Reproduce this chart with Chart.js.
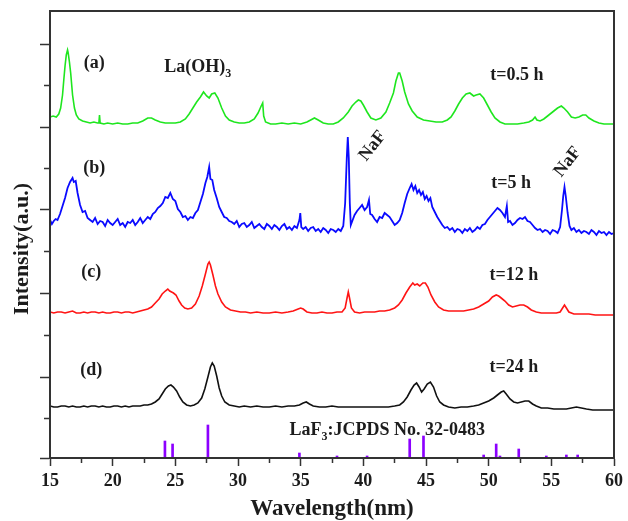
<!DOCTYPE html>
<html>
<head>
<meta charset="utf-8">
<title>XRD patterns</title>
<script src="https://cdn.jsdelivr.net/npm/chart.js@4.4.0/dist/chart.umd.min.js"></script>
<style>
  html, body { margin: 0; padding: 0; background: #fff; }
  canvas { display: block; }
</style>
</head>
<body>
<canvas id="chart" width="628" height="521"></canvas>
<script>
// patterns: [2theta, intensity (a.u., already stacked)]
var curveA = [ // t=0.5 h
	[15.0, 341], [15.25, 342], [15.5, 341], [15.7, 344], [15.85, 350], [16.0, 363], [16.1, 378], [16.2, 392],
	[16.3, 403], [16.4, 408], [16.45, 405], [16.55, 396], [16.65, 385], [16.8, 363], [16.95, 350], [17.1, 343],
	[17.3, 339], [17.6, 337], [17.9, 336], [18.2, 335], [18.5, 336], [18.8, 335], [18.9, 335], [18.95, 343],
	[19.0, 335], [19.3, 334], [19.6, 335], [20.0, 334], [20.4, 335], [20.8, 334], [21.2, 334], [21.6, 335],
	[22.0, 335], [22.4, 337], [22.8, 340], [23.1, 340], [23.4, 338], [23.8, 336], [24.2, 335], [24.6, 335],
	[25.0, 335], [25.4, 336], [25.8, 339], [26.1, 344], [26.4, 350], [26.7, 356], [27.0, 361], [27.25, 366],
	[27.5, 362], [27.7, 360], [27.9, 364], [28.15, 365], [28.4, 360], [28.7, 350], [29.0, 342], [29.3, 338],
	[29.7, 336], [30.1, 335], [30.5, 335], [30.9, 336], [31.3, 339], [31.6, 345], [31.85, 352], [31.97, 355],
	[32.05, 342], [32.2, 336], [32.6, 334], [33.0, 334], [33.5, 335], [34.0, 334], [34.5, 335], [35.0, 334],
	[35.5, 336], [35.8, 338], [36.1, 340], [36.4, 338], [36.8, 335], [37.2, 334], [37.6, 334], [38.0, 336],
	[38.4, 340], [38.8, 346], [39.1, 352], [39.4, 356], [39.6, 358], [39.8, 357], [40.0, 353], [40.3, 346],
	[40.6, 340], [41.0, 338], [41.4, 340], [41.8, 346], [42.1, 355], [42.4, 365], [42.6, 377], [42.8, 385],
	[42.9, 385], [43.1, 377], [43.3, 366], [43.6, 354], [43.9, 347], [44.3, 341], [44.8, 338], [45.3, 337],
	[45.8, 336], [46.3, 336], [46.7, 338], [47.0, 341], [47.3, 347], [47.6, 354], [47.9, 360], [48.2, 364],
	[48.5, 365], [48.8, 362], [49.0, 363], [49.3, 364], [49.6, 360], [49.9, 353], [50.2, 346], [50.5, 340],
	[50.9, 336], [51.3, 334], [51.8, 334], [52.3, 334], [52.8, 335], [53.2, 336], [53.5, 338], [53.7, 341],
	[53.85, 338], [54.1, 337], [54.4, 339], [54.8, 343], [55.2, 347], [55.5, 350], [55.8, 352], [56.0, 350],
	[56.3, 346], [56.6, 341], [56.9, 340], [57.2, 341], [57.5, 343], [57.75, 343], [58.0, 340], [58.4, 337],
	[58.8, 335], [59.2, 334], [59.6, 334], [60.0, 334]
];

var curveB = [ // t=5 h
	[15.0, 238], [15.15, 234], [15.3, 237], [15.45, 239], [15.6, 238], [15.8, 244], [16.0, 252], [16.2, 260],
	[16.4, 270], [16.6, 276], [16.8, 280], [16.9, 276], [17.05, 277], [17.2, 265], [17.4, 253], [17.6, 246],
	[17.8, 247], [18.0, 240], [18.2, 238], [18.4, 236], [18.6, 240], [18.8, 234], [19.0, 237], [19.2, 236],
	[19.4, 232], [19.6, 238], [19.8, 235], [20.0, 233], [20.2, 236], [20.4, 239], [20.6, 233], [20.8, 235],
	[21.0, 231], [21.2, 236], [21.4, 235], [21.6, 238], [21.8, 233], [22.0, 236], [22.2, 240], [22.4, 235],
	[22.6, 238], [22.8, 241], [23.0, 239], [23.2, 244], [23.4, 246], [23.6, 250], [23.8, 252], [24.0, 255],
	[24.2, 261], [24.4, 260], [24.6, 265], [24.8, 259], [25.0, 257], [25.2, 249], [25.4, 246], [25.6, 241],
	[25.8, 242], [26.0, 238], [26.2, 241], [26.4, 240], [26.6, 245], [26.8, 248], [27.0, 256], [27.2, 264],
	[27.4, 275], [27.55, 281], [27.7, 291], [27.8, 279], [27.95, 278], [28.1, 268], [28.3, 260], [28.5, 251],
	[28.7, 246], [28.9, 241], [29.1, 240], [29.3, 237], [29.5, 236], [29.7, 234], [29.9, 237], [30.1, 231],
	[30.3, 234], [30.5, 235], [30.7, 231], [30.9, 233], [31.1, 236], [31.3, 230], [31.5, 232], [31.7, 234],
	[31.9, 231], [32.1, 229], [32.3, 234], [32.5, 232], [32.7, 229], [32.9, 233], [33.1, 231], [33.3, 228],
	[33.5, 232], [33.7, 234], [33.9, 229], [34.1, 231], [34.3, 228], [34.5, 232], [34.7, 230], [34.9, 238],
	[34.97, 245], [35.05, 231], [35.2, 229], [35.4, 231], [35.6, 227], [35.8, 230], [36.0, 231], [36.2, 227],
	[36.4, 229], [36.6, 226], [36.8, 230], [37.0, 228], [37.2, 225], [37.4, 229], [37.6, 228], [37.8, 226],
	[38.0, 229], [38.2, 227], [38.4, 232], [38.55, 255], [38.68, 300], [38.76, 321], [38.84, 300], [38.92, 255],
	[39.0, 233], [39.15, 238], [39.3, 243], [39.5, 247], [39.7, 250], [39.9, 253], [40.1, 248], [40.3, 251],
	[40.45, 258], [40.55, 244], [40.7, 243], [40.9, 239], [41.1, 236], [41.3, 241], [41.5, 240], [41.7, 245],
	[41.9, 243], [42.1, 241], [42.3, 237], [42.5, 233], [42.7, 235], [42.9, 238], [43.1, 245], [43.3, 255],
	[43.5, 264], [43.7, 270], [43.85, 274], [44.0, 268], [44.15, 272], [44.3, 265], [44.45, 268], [44.6, 263],
	[44.75, 266], [44.9, 259], [45.05, 262], [45.2, 257], [45.35, 260], [45.5, 251], [45.7, 246], [45.9, 241],
	[46.1, 237], [46.3, 233], [46.5, 230], [46.7, 231], [46.9, 228], [47.1, 230], [47.3, 226], [47.5, 229],
	[47.7, 228], [47.9, 225], [48.1, 229], [48.3, 227], [48.5, 230], [48.7, 226], [48.9, 228], [49.1, 231],
	[49.3, 229], [49.5, 233], [49.7, 234], [49.9, 238], [50.1, 241], [50.3, 244], [50.5, 247], [50.7, 250],
	[50.9, 248], [51.1, 245], [51.3, 241], [51.45, 252], [51.55, 236], [51.7, 237], [51.9, 233], [52.1, 235],
	[52.3, 238], [52.5, 240], [52.7, 239], [52.9, 241], [53.1, 237], [53.3, 236], [53.5, 233], [53.7, 230],
	[53.9, 228], [54.1, 229], [54.3, 226], [54.5, 228], [54.7, 227], [54.9, 224], [55.1, 228], [55.3, 227],
	[55.5, 225], [55.7, 231], [55.85, 248], [55.95, 262], [56.05, 271], [56.15, 262], [56.3, 245], [56.45, 232],
	[56.6, 228], [56.8, 230], [57.0, 226], [57.2, 228], [57.4, 225], [57.6, 227], [57.8, 226], [58.0, 224],
	[58.2, 228], [58.4, 226], [58.6, 223], [58.8, 227], [59.0, 225], [59.2, 226], [59.4, 223], [59.6, 226],
	[59.8, 224], [60.0, 225]
];

var curveC = [ // t=12 h
	[15.0, 146], [15.3, 145], [15.6, 146], [15.9, 146], [16.2, 145], [16.5, 146], [16.8, 147], [17.1, 145],
	[17.4, 145], [17.7, 146], [18.0, 145], [18.3, 146], [18.6, 146], [18.9, 145], [19.2, 146], [19.5, 145],
	[19.8, 145], [20.1, 146], [20.4, 146], [20.7, 145], [21.0, 146], [21.3, 146], [21.6, 145], [21.9, 146],
	[22.2, 147], [22.5, 148], [22.8, 149], [23.1, 151], [23.4, 155], [23.7, 159], [23.95, 164], [24.2, 167],
	[24.4, 169], [24.55, 167], [24.7, 166], [24.85, 165], [25.05, 163], [25.3, 157], [25.5, 153], [25.75, 150],
	[26.0, 149], [26.3, 150], [26.6, 154], [26.9, 162], [27.15, 172], [27.4, 184], [27.6, 194], [27.7, 196],
	[27.8, 193], [28.0, 183], [28.2, 172], [28.4, 164], [28.7, 156], [29.0, 151], [29.4, 148], [29.8, 147],
	[30.2, 146], [30.6, 146], [31.0, 145], [31.5, 146], [32.0, 145], [32.5, 145], [33.0, 146], [33.5, 145],
	[34.0, 146], [34.4, 147], [34.8, 149], [35.0, 150], [35.2, 149], [35.5, 146], [35.9, 145], [36.3, 145],
	[36.7, 146], [37.1, 145], [37.5, 145], [37.9, 146], [38.3, 146], [38.55, 150], [38.7, 160], [38.8, 166],
	[38.9, 160], [39.05, 150], [39.3, 146], [39.7, 145], [40.1, 146], [40.5, 146], [40.9, 146], [41.3, 147],
	[41.7, 147], [42.1, 148], [42.5, 150], [42.8, 153], [43.1, 158], [43.4, 165], [43.7, 171], [43.95, 175],
	[44.1, 173], [44.3, 174], [44.5, 172], [44.75, 175], [44.95, 175], [45.15, 171], [45.4, 163], [45.7, 156],
	[46.0, 151], [46.4, 148], [46.8, 147], [47.2, 147], [47.6, 147], [48.0, 147], [48.4, 148], [48.8, 149],
	[49.2, 151], [49.6, 154], [50.0, 157], [50.3, 161], [50.6, 163], [50.8, 162], [51.0, 160], [51.3, 157],
	[51.6, 153], [51.9, 151], [52.2, 152], [52.5, 153], [52.8, 153], [53.1, 151], [53.4, 148], [53.8, 146],
	[54.2, 145], [54.6, 145], [55.0, 145], [55.4, 145], [55.7, 146], [55.9, 150], [56.05, 153], [56.2, 150],
	[56.4, 146], [56.8, 144], [57.2, 144], [57.6, 144], [58.0, 144], [58.5, 143], [59.0, 143], [59.5, 143],
	[60.0, 143]
];

var curveD = [ // t=24 h
	[15.0, 52], [15.3, 51], [15.6, 51], [15.9, 52], [16.2, 52], [16.5, 51], [16.8, 52], [17.1, 51],
	[17.4, 51], [17.7, 52], [18.0, 51], [18.3, 52], [18.6, 52], [18.9, 51], [19.2, 52], [19.5, 51],
	[19.8, 51], [20.1, 52], [20.4, 52], [20.7, 51], [21.0, 52], [21.3, 51], [21.6, 52], [21.9, 52],
	[22.2, 52], [22.5, 53], [22.8, 53], [23.1, 54], [23.4, 56], [23.7, 59], [23.95, 64], [24.2, 69],
	[24.45, 72], [24.65, 73], [24.85, 71], [25.1, 67], [25.35, 61], [25.6, 56], [25.9, 53], [26.2, 52],
	[26.5, 53], [26.8, 55], [27.1, 60], [27.35, 69], [27.6, 81], [27.8, 91], [27.95, 95], [28.1, 92],
	[28.3, 82], [28.5, 70], [28.7, 62], [28.95, 56], [29.3, 53], [29.7, 52], [30.1, 51], [30.5, 52],
	[31.0, 51], [31.5, 52], [32.0, 51], [32.5, 51], [33.0, 52], [33.5, 51], [34.0, 52], [34.5, 52],
	[34.9, 53], [35.2, 55], [35.45, 56], [35.7, 54], [36.0, 52], [36.5, 51], [37.0, 51], [37.5, 52],
	[38.0, 51], [38.5, 51], [39.0, 51], [39.5, 51], [40.0, 51], [40.5, 51], [41.0, 51], [41.5, 51],
	[42.0, 51], [42.5, 52], [42.9, 53], [43.2, 56], [43.5, 61], [43.8, 68], [44.05, 73], [44.25, 75],
	[44.45, 71], [44.65, 66], [44.85, 69], [45.1, 74], [45.35, 76], [45.6, 71], [45.85, 62], [46.1, 56],
	[46.4, 53], [46.8, 51], [47.3, 50], [47.8, 51], [48.3, 51], [48.8, 52], [49.2, 53], [49.6, 55],
	[50.0, 57], [50.4, 60], [50.7, 63], [51.0, 66], [51.2, 67], [51.4, 64], [51.7, 59], [52.0, 56],
	[52.3, 55], [52.6, 56], [52.9, 57], [53.2, 57], [53.5, 54], [53.8, 52], [54.2, 50], [54.7, 50],
	[55.2, 49], [55.7, 49], [56.2, 49], [56.6, 50], [57.0, 51], [57.4, 50], [57.8, 49], [58.3, 48],
	[58.8, 48], [59.3, 48], [60.0, 48]
];

// LaF3 JCPDS 32-0483 reference sticks
var refLines = [
	[24.17, 17], [24.78, 14], [27.6, 33], [34.9, 5], [37.9, 2], [40.3, 2], [43.7, 19], [44.8, 22],
	[49.6, 3], [50.6, 14], [50.9, 2], [52.4, 9], [54.6, 2], [56.2, 3], [57.1, 3]
];

var yTickValues = [0, 40, 81, 123, 165, 207, 249, 290, 331, 372, 414];

// text in the plot, '_' marks a subscript character
var notes = [
	{ text: '(a)', x: 18.53, y: 395 },
	{ text: 'La(OH)_3', x: 26.79, y: 391 },
	{ text: 't=0.5 h', x: 52.26, y: 383 },
	{ text: '(b)', x: 18.53, y: 290 },
	{ text: 'NaF', x: 40.75, y: 312, rot: -52 },
	{ text: 'NaF', x: 56.31, y: 296, rot: -52 },
	{ text: 't=5 h', x: 51.79, y: 275 },
	{ text: '(c)', x: 18.29, y: 186 },
	{ text: 't=12 h', x: 52.02, y: 183 },
	{ text: '(d)', x: 18.29, y: 88 },
	{ text: 't=24 h', x: 52.02, y: 91 },
	{ text: 'LaF_3:JCPDS No. 32-0483', x: 41.9, y: 28 }
];

var SERIF = '"Liberation Serif", "Times New Roman", serif';
var INK = '#1c1c1c';

function toXY(arr) {
	return arr.map(function(p) { return { x: p[0], y: p[1] }; });
}

function splitSub(s) {
	var out = [], buf = '';
	for (var i = 0; i < s.length; i++) {
		if (s[i] === '_') {
			if (buf) out.push({ t: buf, sub: false });
			out.push({ t: s[i + 1], sub: true });
			buf = '';
			i++;
		} else {
			buf += s[i];
		}
	}
	if (buf) out.push({ t: buf, sub: false });
	return out;
}

var notesPlugin = {
	id: 'notes',
	afterDraw: function(chart) {
		var ctx = chart.ctx, xs = chart.scales.x, ys = chart.scales.y, area = chart.chartArea;
		ctx.save();

		// frame round the plot
		ctx.strokeStyle = '#333';
		ctx.lineWidth = 2;
		ctx.strokeRect(area.left, area.top, area.right - area.left, area.bottom - area.top);

		ctx.fillStyle = INK;
		ctx.textBaseline = 'middle';
		ctx.textAlign = 'left';
		notes.forEach(function(n) {
			var parts = splitSub(n.text);
			var width = 0;
			parts.forEach(function(p) {
				ctx.font = 'bold ' + (p.sub ? 12 : 18) + 'px ' + SERIF;
				p.w = ctx.measureText(p.t).width;
				width += p.w;
			});
			ctx.save();
			ctx.translate(xs.getPixelForValue(n.x), ys.getPixelForValue(n.y));
			ctx.rotate((n.rot || 0) * Math.PI / 180);
			var cx = -width / 2;
			parts.forEach(function(p) {
				ctx.font = 'bold ' + (p.sub ? 12 : 18) + 'px ' + SERIF;
				ctx.fillText(p.t, cx, p.sub ? 7 : 0);
				cx += p.w;
			});
			ctx.restore();
		});

		// y axis title
		ctx.translate(22, 249);
		ctx.rotate(-Math.PI / 2);
		ctx.textAlign = 'center';
		ctx.font = 'bold 22px ' + SERIF;
		ctx.fillText('Intensity(a.u.)', 0, 0);
		ctx.restore();
	}
};

function lineSet(label, data, color, width) {
	return {
		type: 'line',
		label: label,
		data: toXY(data),
		borderColor: color,
		borderWidth: width,
		pointRadius: 0,
		tension: 0,
		fill: false
	};
}

var ctx = document.getElementById('chart').getContext('2d');
var chart = new Chart(ctx, {
	type: 'line',
	data: {
		datasets: [
			lineSet('t=0.5 h', curveA, '#1ee61e', 1.6),
			lineSet('t=5 h', curveB, '#0a0aff', 1.8),
			lineSet('t=12 h', curveC, '#ff1414', 1.6),
			lineSet('t=24 h', curveD, '#111111', 1.6),
			{
				type: 'bar',
				label: 'LaF3 JCPDS 32-0483',
				data: toXY(refLines),
				backgroundColor: '#8c00ff',
				barThickness: 2
			}
		]
	},
	options: {
		responsive: false,
		animation: false,
		devicePixelRatio: 1,
		layout: { padding: { top: 11, right: 11, left: 0, bottom: 0 } },
		plugins: { legend: { display: false }, tooltip: { enabled: false } },
		scales: {
			x: {
				type: 'linear',
				min: 15,
				max: 60,
				offset: false,
				afterFit: function(s) { s.height = 63; },
				border: { color: '#333', width: 2 },
				grid: {
					offset: false,
					drawOnChartArea: false,
					tickLength: 8,
					tickColor: '#333',
					tickWidth: 1.5,
					tickBorderDash: function(c) { return c.tick && c.tick.value % 5 !== 0 ? [4, 20] : []; }
				},
				ticks: {
					stepSize: 2.5,
					autoSkip: false,
					maxRotation: 0,
					padding: 5,
					color: INK,
					font: { family: SERIF, size: 18, weight: 'bold' },
					callback: function(v) { return v % 5 === 0 ? v : ''; }
				},
				title: {
					display: true,
					text: 'Wavelength(nm)',
					color: INK,
					padding: 0,
					font: { family: SERIF, size: 23, weight: 'bold', lineHeight: 1 }
				}
			},
			y: {
				type: 'linear',
				min: 0,
				max: 447,
				afterFit: function(s) { s.width = 50; },
				afterBuildTicks: function(s) {
					s.ticks = yTickValues.map(function(v) { return { value: v }; });
				},
				border: { color: '#333', width: 2 },
				grid: {
					drawOnChartArea: false,
					tickLength: 10,
					tickColor: '#333',
					tickWidth: 1.5,
					tickBorderDash: function(c) { return c.index % 2 === 1 ? [0, 4, 6, 20] : []; }
				},
				ticks: { display: false }
			}
		}
	},
	plugins: [notesPlugin]
});
</script>
</body>
</html>
